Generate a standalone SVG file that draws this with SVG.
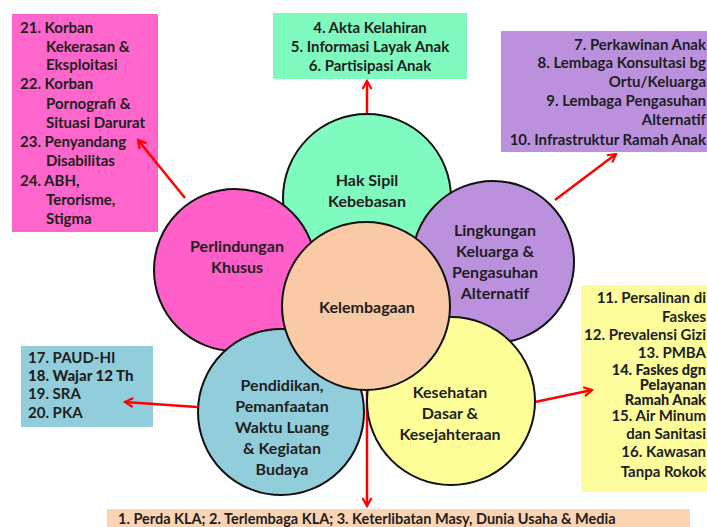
<svg xmlns="http://www.w3.org/2000/svg" width="707" height="527" viewBox="0 0 707 527">
<defs>
<style>
text{font-family:Lato,"Open Sans","Liberation Sans",sans-serif;font-weight:700;fill:#1e1e1e}
.c{font-size:16px;text-anchor:middle}
.b{font-size:15px}
.s{font-size:14.5px}
.t{font-size:14.5px}
.m{text-anchor:middle}
.e{text-anchor:end}
.h{font-weight:900}
circle{stroke:#111;stroke-width:2}
.ln{stroke:#f00;stroke-width:2.5;fill:none;marker-end:url(#ah)}
</style>
<marker id="ah" viewBox="0 0 12 12" refX="10" refY="6" markerWidth="12" markerHeight="12" orient="auto" markerUnits="userSpaceOnUse"><path d="M2,1.5 L10,6 L2,10.5" fill="none" stroke="#f00" stroke-width="2.2"/></marker>
</defs>
<rect width="707" height="527" fill="#fff"/>

<g id="box-pink">
<rect x="12" y="14" width="146" height="218" fill="#ff66cc"/>
<text class="b" x="20" y="33">21. Korban</text>
<text class="b" x="46" y="52">Kekerasan &amp;</text>
<text class="b" x="46" y="70">Eksploitasi</text>
<text class="b" x="20" y="89">22. Korban</text>
<text class="b" x="46" y="109">Pornografi &amp;</text>
<text class="b" x="46" y="128">Situasi Darurat</text>
<text class="b" x="20" y="147">23. Penyandang</text>
<text class="b" x="46" y="166">Disabilitas</text>
<text class="b" x="20" y="186">24. ABH,</text>
<text class="b" x="46" y="205">Terorisme,</text>
<text class="b" x="46" y="224">Stigma</text>
</g>

<g id="box-green">
<rect x="273" y="13" width="194" height="66" fill="#80f9bf"/>
<text class="b m" x="370" y="33">4. Akta Kelahiran</text>
<text class="b m" x="370" y="52">5. Informasi Layak Anak</text>
<text class="b m" x="370" y="71">6. Partisipasi Anak</text>
</g>

<g id="box-purple">
<rect x="501" y="31" width="206" height="121" fill="#bb91dd"/>
<text class="b e" x="706" y="50">7. Perkawinan Anak</text>
<text class="b e" x="706" y="68">8. Lembaga Konsultasi bg</text>
<text class="b e" x="706" y="87">Ortu/Keluarga</text>
<text class="b e" x="706" y="106">9. Lembaga Pengasuhan</text>
<text class="b e" x="706" y="125">Alternatif</text>
<text class="b e" x="706" y="145">10.  Infrastruktur Ramah Anak</text>
</g>

<g id="box-yellow">
<rect x="581" y="285" width="126" height="207" fill="#fdfd9c"/>
<text class="b e" x="706" y="303">11. Persalinan di</text>
<text class="b e" x="706" y="322">Faskes</text>
<text class="b e" x="706" y="340">12. Prevalensi Gizi</text>
<text class="b e" x="706" y="358">13. PMBA</text>
<text class="t e h" x="706" y="375">14. Faskes dgn</text>
<text class="t e h" x="706" y="390">Pelayanan</text>
<text class="t e h" x="706" y="405">Ramah Anak</text>
<text class="b e" x="706" y="421">15. Air Minum</text>
<text class="b e" x="706" y="439">dan Sanitasi</text>
<text class="b e" x="706" y="457">16. Kawasan</text>
<text class="b e" x="706" y="477">Tanpa Rokok</text>
</g>

<g id="box-blue">
<rect x="21" y="346" width="132" height="81" fill="#92cddc"/>
<text class="b" x="28" y="363">17. PAUD-HI</text>
<text class="b h" x="28" y="381">18. Wajar 12 Th</text>
<text class="b" x="28" y="399">19. SRA</text>
<text class="b" x="28" y="418">20. PKA</text>
</g>

<g id="box-bottom">
<rect x="107" y="509" width="583" height="18" fill="#fbd4b4"/>
<text class="s" x="118" y="524">1. Perda KLA; 2. Terlembaga KLA; 3. Keterlibatan Masy, Dunia Usaha &amp; Media</text>
</g>

<g id="connectors">
<line class="ln" x1="367" y1="115" x2="367" y2="81"/>
<line class="ln" x1="185" y1="198" x2="138" y2="140"/>
<line class="ln" x1="555" y1="200" x2="616" y2="154"/>
<line class="ln" x1="535" y1="402" x2="592" y2="390"/>
<line class="ln" x1="197" y1="407" x2="125" y2="402"/>
<line class="ln" x1="367" y1="390" x2="367" y2="506"/>
</g>

<g id="hak-sipil">
<circle cx="367" cy="198" r="84" fill="#80fbbf"/>
<text class="c" x="367" y="186">Hak Sipil</text>
<text class="c" x="367" y="207">Kebebasan</text>
</g>
<g id="perlindungan">
<circle cx="235" cy="270" r="81" fill="#ff5fc8"/>
<text class="c" x="237" y="252">Perlindungan</text>
<text class="c" x="237" y="273">Khusus</text>
</g>
<g id="lingkungan">
<circle cx="493" cy="262" r="81" fill="#bb91dd"/>
<text class="c" x="495" y="236">Lingkungan</text>
<text class="c" x="495" y="257">Keluarga &amp;</text>
<text class="c" x="495" y="278">Pengasuhan</text>
<text class="c" x="495" y="299">Alternatif</text>
</g>
<g id="pendidikan">
<circle cx="281" cy="412" r="83" fill="#92cddc"/>
<text class="c" x="282" y="391">Pendidikan,</text>
<text class="c" x="282" y="412">Pemanfaatan</text>
<text class="c" x="282" y="433">Waktu Luang</text>
<text class="c" x="282" y="454">&amp; Kegiatan</text>
<text class="c" x="282" y="475">Budaya</text>
</g>
<g id="kesehatan">
<circle cx="451" cy="401" r="84" fill="#ffff99"/>
<text class="c" x="450" y="398">Kesehatan</text>
<text class="c" x="450" y="419">Dasar &amp;</text>
<text class="c" x="450" y="440">Kesejahteraan</text>
</g>
<g id="kelembagaan">
<circle cx="366" cy="306" r="84" fill="#fac9a6"/>
<text class="c" x="367" y="313">Kelembagaan</text>
</g>
</svg>
